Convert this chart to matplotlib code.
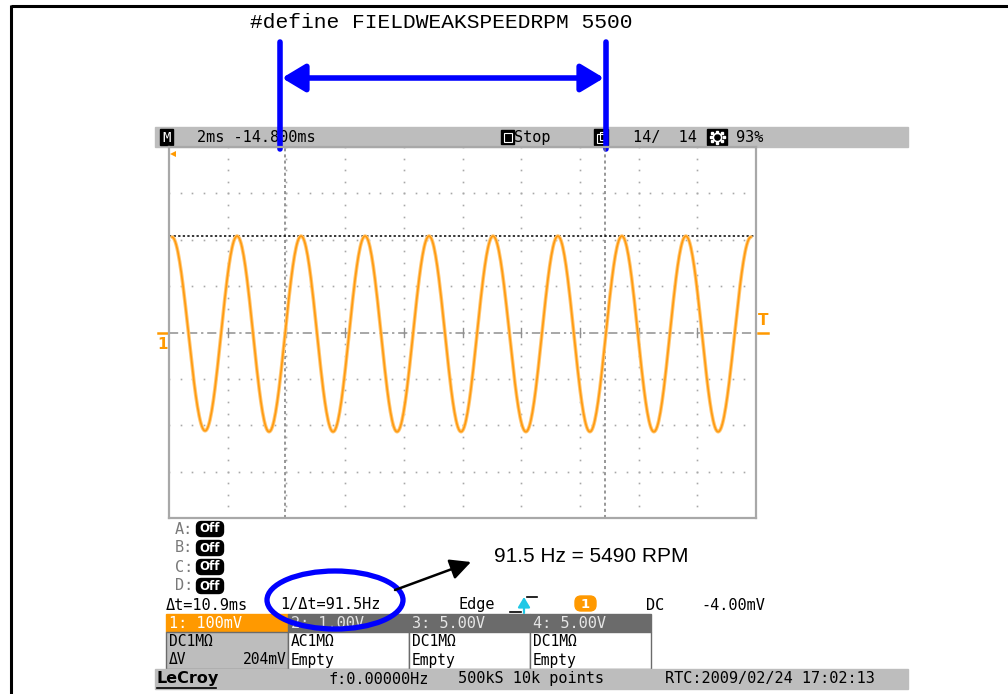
import numpy as np
import matplotlib
matplotlib.use("Agg")
import matplotlib.pyplot as plt
from matplotlib.patches import Rectangle, Ellipse, FancyBboxPatch

# waveform: time of each extreme (ms from left edge of grid) and its level (mV)
peak_t_ms = [0.10, 2.32, 4.50, 6.68, 8.86, 11.04, 13.25, 15.43, 17.61, 19.83]
trough_t_ms = [1.23, 3.41, 5.59, 7.77, 9.95, 12.16, 14.34, 16.52, 18.71]
peak_mv = [206, 208, 208, 208, 208, 208, 208, 208, 208, 206]
trough_mv = [-212, -214, -214, -214, -214, -214, -214, -214, -214]

# cursors
cursor_t1_ms = 3.95
delta_t_ms = 10.9
cursor_v_mv = 209

# screen settings
ms_per_div = 2
mv_per_div = 100

ORANGE = "#ff9900"
GRAY_BAR = "#bdbdbd"
DARK_HDR = "#6b6b6b"
MONO = "DejaVu Sans Mono"

fig = plt.figure(figsize=(10.08, 6.94), dpi=100)
ax0 = fig.add_axes([0, 0, 1, 1])
ax0.set_xlim(0, 1008)
ax0.set_ylim(694, 0)
ax0.axis("off")


def txt(x, y, s, color="black", size=11, ha="left", family=MONO, weight="normal", z=5):
    ax0.text(x, y, s, color=color, fontsize=size, ha=ha, va="center",
             family=family, weight=weight, zorder=z)


# page frame
ax0.plot([11, 1008], [6, 6], color="black", lw=2.2, solid_capstyle="butt")
ax0.plot([11, 11], [5, 694], color="black", lw=2.2, solid_capstyle="butt")

# ---- top status bar
ax0.add_patch(Rectangle((155, 127), 753, 20, color=GRAY_BAR, zorder=1))
ax0.add_patch(Rectangle((160, 129), 13, 16, color="black", zorder=2))
txt(166.5, 137.5, "M", color="white", size=10, ha="center")
txt(197, 137, "2ms -14.800ms")
ax0.add_patch(Rectangle((501, 130), 13, 14, color="black", zorder=2))
ax0.add_patch(Rectangle((503.5, 132.5), 8, 9, fill=False, ec="white", lw=0.8, zorder=3))
txt(514, 137, "Stop")
ax0.add_patch(Rectangle((594, 129), 14, 16, color="black", zorder=2))
ax0.add_patch(Rectangle((597, 134), 7, 9, fill=False, ec="white", lw=0.8, zorder=3))
ax0.add_patch(Rectangle((599.5, 131.5), 6, 8, fill=False, ec="white", lw=0.8, zorder=3))
txt(633, 137, "14/  14")
ax0.add_patch(Rectangle((707, 129), 20, 16, color="black", zorder=2))
ax0.plot(717, 137, marker="o", ms=6, mfc="none", mec="white", mew=1.2, zorder=3)
for a in np.linspace(0, 2 * np.pi, 8, endpoint=False):
    ax0.plot(717 + 6.5 * np.cos(a), 137 + 5.5 * np.sin(a), marker="s", ms=1.5,
             color="white", zorder=3)
txt(736, 137, "93%")

# ---- annotation on top
txt(250, 22, "#define FIELDWEAKSPEEDRPM 5500", size=15.3, family="Liberation Mono")
ax0.plot([280, 280], [42, 149], color="blue", lw=4, solid_capstyle="round", zorder=6)
ax0.plot([606, 606], [42, 149], color="blue", lw=4, solid_capstyle="round", zorder=6)
ax0.annotate("", xy=(604, 78), xytext=(282, 78),
             arrowprops=dict(arrowstyle="<|-|>,head_length=0.7,head_width=0.42",
                             lw=4, color="blue", mutation_scale=20,
                             shrinkA=0, shrinkB=0), zorder=6)

# ---- waveform grid
gl, gr, gt, gb = 169, 756, 147, 518
ax = fig.add_axes([gl / 1008, (694 - gb) / 694, (gr - gl) / 1008, (gb - gt) / 694])
ax.set_facecolor("none")
n_xdiv, n_ydiv = 10, 8
ax.set_xlim(0, n_xdiv * ms_per_div)
ax.set_ylim(-n_ydiv / 2 * mv_per_div, n_ydiv / 2 * mv_per_div)
ax.set_xticks([])
ax.set_yticks([])
for sp in ax.spines.values():
    sp.set_color("#a8a8a8")
    sp.set_linewidth(1.6)

dot_x = np.arange(0, n_xdiv * ms_per_div + 1e-6, ms_per_div / 5)
dot_y = np.arange(-n_ydiv / 2 * mv_per_div, n_ydiv / 2 * mv_per_div + 1e-6, mv_per_div / 4)
for k in range(1, n_ydiv):
    yv = -n_ydiv / 2 * mv_per_div + k * mv_per_div
    if yv == 0:
        continue
    ax.plot(dot_x, np.full_like(dot_x, yv), ls="none", marker="s", ms=1.2,
            color="#a8a8a8", mew=0)
for k in range(1, n_xdiv):
    xv = k * ms_per_div
    ax.plot(np.full_like(dot_y, xv), dot_y, ls="none", marker="s", ms=1.2,
            color="#a8a8a8", mew=0)
# centre line
ax.axhline(0, color="#909090", lw=1.1, dashes=(6, 2.5, 1.5, 2.5))
for k in range(1, n_xdiv):
    ax.plot([k * ms_per_div] * 2, [-9, 9], color="#909090", lw=1)

# cursors
for tc in (cursor_t1_ms, cursor_t1_ms + delta_t_ms):
    ax.axvline(tc, color="#7a7a7a", lw=1.1, dashes=(2, 2))
ax.axhline(cursor_v_mv, color="black", lw=1.1, dashes=(1.5, 1.5))

# trace: join the read extremes with half-cosine segments
ext_t = np.array(peak_t_ms + trough_t_ms)
ext_v = np.array(peak_mv + trough_mv)
order = np.argsort(ext_t)
ext_t, ext_v = ext_t[order], ext_v[order]
tt, vv = [], []
for i in range(len(ext_t) - 1):
    s = np.linspace(0, 1, 40)
    w = (1 - np.cos(np.pi * s)) / 2
    tt.append(ext_t[i] + (ext_t[i + 1] - ext_t[i]) * s)
    vv.append(ext_v[i] + (ext_v[i + 1] - ext_v[i]) * w)
tt = np.concatenate(tt)
vv = np.concatenate(vv)
ax.plot(tt, vv, color="#ffc876", lw=2.6, solid_capstyle="round")
ax.plot(tt, vv, color="#ff9a10", lw=1.2, solid_capstyle="round")
ax.plot(0.15, 385, marker="<", color=ORANGE, ms=5, mew=0, clip_on=False)

# channel / trigger markers beside grid
ax0.plot([158, 168], [333, 333], color=ORANGE, lw=1.8)
txt(163, 344, "1", color=ORANGE, size=11, ha="center", weight="bold", family="DejaVu Sans")
ax0.plot([758, 768], [333, 333], color=ORANGE, lw=1.8)
txt(763, 320, "T", color=ORANGE, size=11, ha="center", weight="bold", family="DejaVu Sans")

# ---- math channel list
for lab, y in zip(["A:", "B:", "C:", "D:"], [529, 548, 567, 586]):
    txt(175, y, lab, color="#7a7a7a")
    ax0.add_patch(FancyBboxPatch((199, y - 5), 22, 10, boxstyle="round,pad=2.5,rounding_size=5",
                                 color="black", zorder=3))
    txt(210, y, "Off", color="white", size=8.5, ha="center", weight="bold",
        family="DejaVu Sans", z=4)

txt(166, 605, "\u0394t=10.9ms")
txt(280, 605, "1/\u0394t=91.5Hz")
txt(458, 605, "Edge")
ax0.plot([510, 521], [612, 612], color="black", lw=1.2)
ax0.plot([527, 537], [597, 597], color="black", lw=1.2)
ax0.annotate("", xy=(524, 597), xytext=(524, 613),
             arrowprops=dict(arrowstyle="-|>,head_length=0.5,head_width=0.3",
                             color="#20c8e6", lw=1.6, mutation_scale=12,
                             shrinkA=0, shrinkB=0))
ax0.add_patch(FancyBboxPatch((578, 599), 15, 9, boxstyle="round,pad=3,rounding_size=6",
                             color=ORANGE, zorder=3))
txt(585.5, 604, "1", color="white", size=9.5, ha="center", weight="bold",
    family="DejaVu Sans", z=4)
txt(646, 605, "DC")
txt(701, 605, "-4.00mV")

# ---- channel boxes
ch_x = [166, 288, 409, 530, 651]
ch_head = ["1: 100mV", "2: 1.00V", "3: 5.00V", "4: 5.00V"]
ch_cpl = ["DC1M\u03a9", "AC1M\u03a9", "DC1M\u03a9", "DC1M\u03a9"]
ch_row2 = ["\u0394V", "Empty", "Empty", "Empty"]
for i in range(4):
    x0, x1 = ch_x[i], ch_x[i + 1]
    ax0.add_patch(Rectangle((x0, 614), x1 - x0, 18, color=ORANGE if i == 0 else DARK_HDR, zorder=1))
    ax0.add_patch(Rectangle((x0, 632), x1 - x0, 37, fc=GRAY_BAR if i == 0 else "white",
                            ec=DARK_HDR, lw=1, zorder=1))
    txt(x0 + 3, 623, ch_head[i], color="white" if i == 0 else "#e6e6e6")
    txt(x0 + 3, 642, ch_cpl[i], size=10.5)
    txt(x0 + 3, 660, ch_row2[i], size=10.5)
txt(287, 660, "204mV", size=10.5, ha="right")

# ---- bottom bar
ax0.add_patch(Rectangle((155, 669), 753, 20, color=GRAY_BAR, zorder=1))
txt(157, 679, "LeCroy", size=11.5, family="DejaVu Sans", weight="bold")
ax0.plot([157, 216], [688, 688], color="black", lw=1.2, zorder=5)
txt(328, 679, "f:0.00000Hz")
txt(458, 679, "500kS 10k points")
txt(665, 679, "RTC:2009/02/24 17:02:13")

# ---- hand-drawn notes
ax0.add_patch(Ellipse((335, 600), 136, 58, fill=False, ec="blue", lw=3.8, zorder=8))
ax0.annotate("", xy=(471, 562), xytext=(395, 590),
             arrowprops=dict(arrowstyle="-|>,head_length=0.9,head_width=0.45",
                             lw=1.8, color="black", mutation_scale=14,
                             shrinkA=0, shrinkB=0), zorder=8)
txt(494, 556, "91.5 Hz = 5490 RPM", size=15, family="Liberation Sans")

fig.savefig("out.png", dpi=100)
